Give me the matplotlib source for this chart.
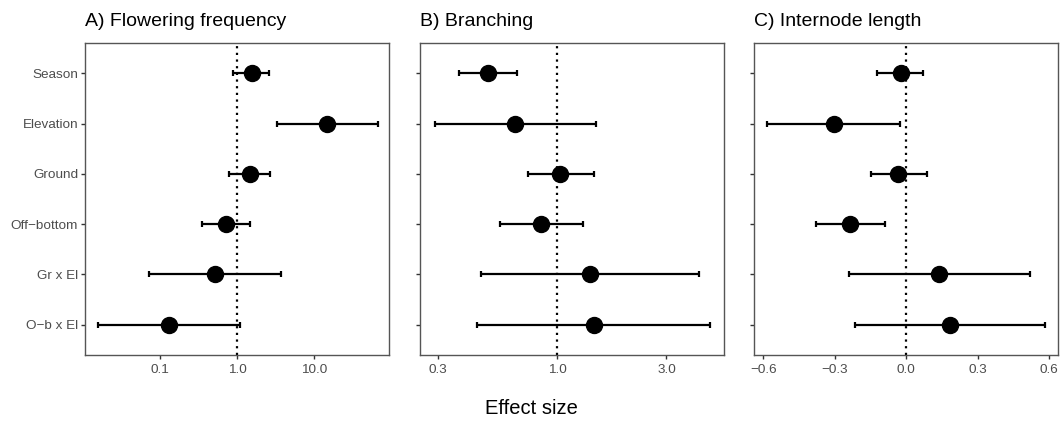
import matplotlib.pyplot as plt
from matplotlib.ticker import FixedLocator, NullLocator

plt.rcParams['font.family'] = ['Liberation Sans', 'DejaVu Sans']

labels = ['Season', 'Elevation', 'Ground', 'Off\u2212bottom', 'Gr x El', 'O\u2212b x El']

# A) Flowering frequency (log scale)
flow_est = [1.55, 14.6, 1.47, 0.72, 0.52, 0.132]
flow_lo = [0.88, 3.28, 0.78, 0.355, 0.072, 0.0158]
flow_hi = [2.6, 66.0, 2.68, 1.46, 3.69, 1.09]

# B) Branching (log scale)
branch_est = [0.497, 0.653, 1.03, 0.844, 1.39, 1.44]
branch_lo = [0.37, 0.29, 0.741, 0.56, 0.461, 0.446]
branch_hi = [0.668, 1.47, 1.44, 1.29, 4.16, 4.64]

# C) Internode length (linear)
inter_est = [-0.021, -0.303, -0.035, -0.234, 0.139, 0.184]
inter_lo = [-0.123, -0.583, -0.149, -0.377, -0.242, -0.216]
inter_hi = [0.072, -0.024, 0.088, -0.088, 0.520, 0.582]

W, H = 1062, 421
fig = plt.figure(figsize=(W / 100, H / 100), dpi=100)

panels = [
    ('A) Flowering frequency', flow_est, flow_lo, flow_hi, 'log', 1.0,
     (0.0107, 93.0), [0.1, 1.0, 10.0], ['0.1', '1.0', '10.0']),
    ('B) Branching', branch_est, branch_lo, branch_hi, 'log', 1.0,
     (0.25, 5.36), [0.3, 1.0, 3.0], ['0.3', '1.0', '3.0']),
    ('C) Internode length', inter_est, inter_lo, inter_hi, 'linear', 0.0,
     (-0.639, 0.638), [-0.6, -0.3, 0.0, 0.3, 0.6], ['\u22120.6', '\u22120.3', '0.0', '0.3', '0.6']),
]
lefts = [85, 420, 754]
top, bottom, width = 43, 355, 304

ypos = [6, 5, 4, 3, 2, 1]
for i, (title, est, lo, hi, scale, ref, xlim, ticks, ticklabels) in enumerate(panels):
    ax = fig.add_axes([lefts[i] / W, 1 - bottom / H, width / W, (bottom - top) / H])
    ax.set_xscale(scale)
    ax.axvline(ref, color='black', linestyle=(0, (1, 2)), linewidth=1.6, zorder=1)
    xerr = [[e - l for e, l in zip(est, lo)], [h - e for e, h in zip(est, hi)]]
    ax.errorbar(est, ypos, xerr=xerr, fmt='none', ecolor='black', elinewidth=1.6,
                capsize=2.2, capthick=1.6, zorder=2)
    ax.plot(est, ypos, 'o', color='black', markersize=11.5, zorder=3)
    ax.set_xlim(*xlim)
    ax.set_ylim(0.4, 6.6)
    ax.xaxis.set_major_locator(FixedLocator(ticks))
    ax.xaxis.set_minor_locator(NullLocator())
    ax.set_xticklabels(ticklabels)
    ax.set_yticks(ypos)
    if i == 0:
        ax.set_yticklabels(labels)
    else:
        ax.set_yticklabels([])
    ax.tick_params(axis='both', which='major', length=3, width=1, color='#333333',
                   labelcolor='#4d4d4d', labelsize=9.7, pad=2)
    ax.tick_params(axis='x', pad=3.5)
    for s in ax.spines.values():
        s.set_color('#555555')
        s.set_linewidth(1.0)
    ax.set_title(title, loc='left', fontsize=14, pad=12)

fig.text(531 / W, 1 - 414.5 / H, 'Effect size', ha='center', va='baseline', fontsize=14.5)

fig.savefig('out.png', dpi=100)
